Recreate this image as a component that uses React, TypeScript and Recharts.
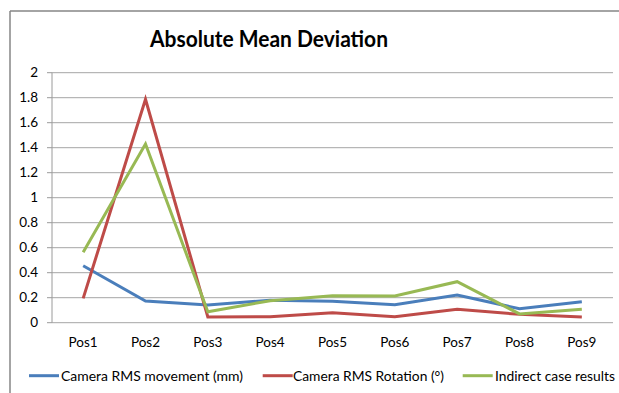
import React from 'react';
import { LineChart, Line, XAxis, YAxis, CartesianGrid, Legend } from 'recharts';

const categories = ['Pos1', 'Pos2', 'Pos3', 'Pos4', 'Pos5', 'Pos6', 'Pos7', 'Pos8', 'Pos9'];
const cameraMovement = [0.456, 0.174, 0.142, 0.18, 0.171, 0.144, 0.222, 0.112, 0.168];
const cameraRotation = [0.195, 1.787, 0.046, 0.048, 0.08, 0.048, 0.107, 0.067, 0.046];
const indirectResults = [0.563, 1.43, 0.088, 0.176, 0.216, 0.214, 0.328, 0.07, 0.107];
const yTicks = [0, 0.2, 0.4, 0.6, 0.8, 1, 1.2, 1.4, 1.6, 1.8, 2];
const seriesNames = ['Camera RMS movement (mm)', 'Camera RMS Rotation (°)', 'Indirect case results'];
const seriesColors = ['#4A7EBB', '#BE4B48', '#98B954'];
const title = 'Absolute Mean Deviation';

const data = categories.map((name, i) => ({
  pos: i + 0.5,
  name,
  movement: cameraMovement[i],
  rotation: cameraRotation[i],
  indirect: indirectResults[i],
}));
const boundaryTicks = categories.map((_, i) => i).concat([categories.length]);
const centerTicks = categories.map((_, i) => i + 0.5);

const FONT = 'Lato, "Open Sans", sans-serif';
const W = 611;
const H = 385;

const legendItems = [
  { name: seriesNames[0], color: seriesColors[0], lx: 21, tx: 53, tl: 182 },
  { name: seriesNames[1], color: seriesColors[1], lx: 254.7, tx: 285, tl: 151 },
  { name: seriesNames[2], color: seriesColors[2], lx: 454.7, tx: 487, tl: 120 },
];

const LegendContent = () => (
  <svg width={W} height={33} style={{ display: 'block' }}>
    {legendItems.map((it) => (
      <g key={it.name}>
        <line x1={it.lx} x2={it.lx + 30} y1={15.7} y2={15.7} stroke={it.color} strokeWidth={3} />
        <text x={it.tx} y={20.5} fontFamily={FONT} fontSize={14} fill="#000" textLength={it.tl} lengthAdjust="spacingAndGlyphs">
          {it.name}
        </text>
      </g>
    ))}
  </svg>
);

export default function App() {
  return (
    <div style={{ position: 'absolute', left: 0, top: 0, width: 619, height: 393, overflow: 'hidden', background: '#fff' }}>
      <style>{'html,body{overflow:hidden;}'}</style>
      <div style={{ position: 'absolute', left: 8, top: 8, width: W, height: H, fontFamily: FONT }}>
        <LineChart
          width={W}
          height={H}
          data={data}
          margin={{ top: 64.7, right: 6, bottom: 40.3, left: 4 }}
        >
          <CartesianGrid vertical={false} stroke="#a6a6a6" strokeWidth={1} />
          <XAxis
            xAxisId="0"
            dataKey="pos"
            type="number"
            domain={[0, categories.length]}
            ticks={boundaryTicks}
            interval={0}
            tick={false}
            tickSize={5}
            height={0}
            axisLine={{ stroke: '#9a9a9a' }}
            tickLine={{ stroke: '#9a9a9a' }}
          />
          <XAxis
            xAxisId="lbl"
            dataKey="pos"
            type="number"
            domain={[0, categories.length]}
            ticks={centerTicks}
            interval={0}
            tickFormatter={(v: number) => categories[Math.floor(v)]}
            axisLine={false}
            tickLine={false}
            tickSize={5}
            tickMargin={10}
            height={30}
            tick={{ fontFamily: FONT, fontSize: 13.5, fill: '#000' }}
          />
          <YAxis
            domain={[0, 2]}
            ticks={yTicks}
            interval={0}
            width={40}
            tickSize={5}
            tickMargin={9}
            axisLine={{ stroke: '#9a9a9a' }}
            tickLine={{ stroke: '#9a9a9a' }}
            tick={{ fontFamily: FONT, fontSize: 13.5, fill: '#000' }}
          />
          <Legend
            layout="horizontal"
            verticalAlign="middle"
            align="center"
            content={() => <LegendContent />}
            wrapperStyle={{ left: 0, top: 352, width: W, height: 33 }}
          />
          <Line xAxisId="0" type="linear" dataKey="movement" name={seriesNames[0]} stroke={seriesColors[0]} strokeWidth={3} dot={false} isAnimationActive={false} />
          <Line xAxisId="0" type="linear" dataKey="rotation" name={seriesNames[1]} stroke={seriesColors[1]} strokeWidth={3} dot={false} isAnimationActive={false} />
          <Line xAxisId="0" type="linear" dataKey="indirect" name={seriesNames[2]} stroke={seriesColors[2]} strokeWidth={3} dot={false} isAnimationActive={false} />
        </LineChart>
        <svg width={W} height={H} style={{ position: 'absolute', left: 0, top: 0, pointerEvents: 'none' }}>
          <line x1={2} x2={2} y1={3} y2={H} stroke="#868686" strokeWidth={1.5} />
          <line x1={2} x2={W} y1={3} y2={3} stroke="#868686" strokeWidth={1.5} />
          <text x={142} y={38.7} fontFamily={FONT} fontWeight="bold" fontSize={23} fill="#000" textLength={238} lengthAdjust="spacingAndGlyphs">
            {title}
          </text>
        </svg>
      </div>
    </div>
  );
}
